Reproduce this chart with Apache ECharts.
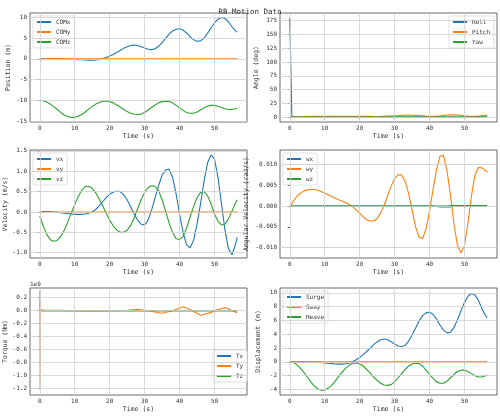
<!DOCTYPE html><html><head><meta charset="utf-8">
<script src="https://cdn.jsdelivr.net/npm/echarts@6/dist/echarts.min.js"></script>
<style>html,body{margin:0;background:#fff}#c{width:500px;height:416px}</style></head><body><div id="c"></div>
<script>
const time=[0,1,2,3,4,5,6,7,8,9,10,11,12,13,14,15,16,17,18,19,20,21,22,23,24,25,26,27,28,29,30,31,32,33,34,35,36,37,38,39,40,41,42,43,44,45,46,47,48,49,50,51,52,53,54,55,56,56.5];
const comX=[0,0,0,0,0,-0.01,-0.02,-0.04,-0.07,-0.1,-0.15,-0.2,-0.25,-0.3,-0.33,-0.33,-0.28,-0.15,0.05,0.3,0.65,1.05,1.5,2.0,2.5,2.9,3.2,3.3,3.2,2.9,2.6,2.3,2.2,2.4,3.0,3.9,4.9,5.9,6.7,7.1,7.2,6.9,6.2,5.3,4.6,4.2,4.3,5.0,6.1,7.4,8.6,9.5,9.9,9.7,8.9,7.7,6.7,6.4];
const comY=[0,0,0,0,0,0,0,0,0,0,0,0,0,0,0,0,0,0,0,0,0,0,0,0,0,0,0,0,0,0,0,0,0,0,0,0,0,0,0,0,0,0,0,0,0,0,0,0,0,0,0,0,0,0,0,0,0,0];
const comZ=[-10,-10.1,-10.4,-10.9,-11.5,-12.2,-12.9,-13.5,-13.9,-14.1,-14.1,-13.8,-13.4,-12.8,-12.1,-11.5,-10.9,-10.5,-10.2,-10.15,-10.3,-10.6,-11.1,-11.6,-12.2,-12.7,-13.1,-13.35,-13.4,-13.3,-12.9,-12.3,-11.7,-11.1,-10.6,-10.3,-10.2,-10.25,-10.6,-11.2,-11.8,-12.4,-12.9,-13.1,-13.1,-12.8,-12.3,-11.8,-11.4,-11.2,-11.2,-11.4,-11.7,-12.0,-12.2,-12.2,-12.0,-11.9];
const rollTime=[0,0.5,0.6,56.5];
const roll=[180,180,0,0];
const pitch=[0,0.2,0.4,0.6,0.8,1.0,1.1,1.2,1.3,1.3,1.4,1.4,1.4,1.4,1.5,1.5,1.5,1.5,1.5,1.4,1.4,1.3,1.2,1.2,1.1,1.1,1.2,1.4,1.7,2.0,2.4,2.8,3.1,3.3,3.4,3.3,3.0,2.6,2.1,1.6,1.3,1.3,1.7,2.3,3.0,3.6,3.9,3.9,3.6,3.0,2.3,1.7,1.4,1.5,2.0,2.6,3.1,3.2];
const yaw=comY;
const vx=[0,0.01,0.01,0.01,0,-0.01,-0.02,-0.03,-0.04,-0.05,-0.06,-0.06,-0.06,-0.05,-0.03,0,0.06,0.15,0.25,0.35,0.43,0.49,0.51,0.5,0.42,0.3,0.13,-0.05,-0.2,-0.3,-0.32,-0.2,0.05,0.35,0.65,0.9,1.03,1.05,0.85,0.45,-0.05,-0.5,-0.8,-0.88,-0.7,-0.3,0.2,0.75,1.2,1.4,1.3,0.85,0.2,-0.45,-0.9,-1.05,-0.8,-0.62];
const vy=comY;
const vz=[-0.1,-0.35,-0.55,-0.68,-0.72,-0.7,-0.6,-0.45,-0.25,-0.03,0.18,0.38,0.53,0.62,0.63,0.58,0.47,0.32,0.15,-0.03,-0.2,-0.34,-0.44,-0.5,-0.5,-0.45,-0.33,-0.15,0.08,0.3,0.48,0.6,0.64,0.63,0.52,0.3,0.02,-0.27,-0.5,-0.65,-0.68,-0.6,-0.4,-0.13,0.13,0.35,0.48,0.5,0.4,0.2,-0.05,-0.23,-0.32,-0.3,-0.17,0.02,0.22,0.3];
const wx=[0,0,0,0,0,0,0,0,0,0,0,0,0,0,0,0,0,0,0,0,0,0,0,0,0,0,0,0,0,0,0,0,0,0,0,0,0,0,0,0,0,0,-0.0001,-0.0002,-0.0002,-0.0002,-0.0002,-0.0001,0,0,0,0,0,0,0,0,0,0];
const wy=[-0.0003,0.0012,0.0023,0.0031,0.0036,0.0039,0.004,0.004,0.0038,0.0035,0.0031,0.0027,0.0023,0.0019,0.0015,0.0012,0.0008,0.0004,-0.0002,-0.0009,-0.0017,-0.0026,-0.0033,-0.0036,-0.0036,-0.003,-0.0017,0.0002,0.0025,0.0048,0.0066,0.0075,0.0075,0.006,0.003,-0.001,-0.005,-0.0075,-0.0078,-0.0055,-0.0012,0.004,0.0088,0.012,0.0122,0.0085,0.0025,-0.0045,-0.0095,-0.0113,-0.0095,-0.004,0.0025,0.0075,0.0093,0.0092,0.0085,0.0082];
const wz=[0,0,0,0,0,0,0,0,0,0,0,0,0,0,0,0,0,0,0,0,0,0,0,0,0,0,0,0,0,0,0,0,0,0,0,0,0,0,0,0,0,0,0,0,0,0,0.0001,0.0001,0.0001,0.0001,0.0001,0.0001,0.0001,0.0001,0.0001,0.0001,0.0001,0.0001];
const tx=comY;
const tyTime=[0,0.05,0.1,0.15,1,5,10,15,20,25,28,31,35,38,41,43,46,49,50,50.05,50.1,53,56.5];
const ty=[0,0.32,-1.22,0.02,0.01,0.005,0,-0.005,0,0.005,0.02,0.0,-0.04,0.0,0.06,0.02,-0.07,-0.03,0,-0.03,0.01,0.05,-0.03];
const tz=comY;
const surge=comX;
const sway=comY;
const heave=[0,-0.1,-0.4,-0.9,-1.5,-2.2,-2.9,-3.5,-3.9,-4.1,-4.1,-3.8,-3.4,-2.8,-2.1,-1.5,-0.9,-0.5,-0.2,-0.15,-0.3,-0.6,-1.1,-1.6,-2.2,-2.7,-3.1,-3.35,-3.4,-3.3,-2.9,-2.3,-1.7,-1.1,-0.6,-0.3,-0.2,-0.25,-0.6,-1.2,-1.8,-2.4,-2.9,-3.1,-3.1,-2.8,-2.3,-1.8,-1.4,-1.2,-1.2,-1.4,-1.7,-2.0,-2.2,-2.2,-2.0,-1.9];
const xTicks=[0,10,20,30,40,50];
const yTicks=[[-15,-10,-5,0,5,10],[0,25,50,75,100,125,150,175],[-1.0,-0.5,0.0,0.5,1.0,1.5],[-0.010,-0.005,0.000,0.005,0.010],[-1.2,-1.0,-0.8,-0.6,-0.4,-0.2,0.0,0.2],[-4,-2,0,2,4,6,8,10]];
const yRange=[[-15.2,11],[-9,189],[-1.13,1.52],[-0.0125,0.0135],[-1.3,0.35],[-4.8,10.7]];
const yDec=[0,0,1,3,1,0];
const yNames=['Position (m)','Angle (deg)','Velocity (m/s)','Angular Velocity (rad/s)','Torque (Nm)','Displacement (m)'];
const C=['#1f77b4','#ff7f0e','#2ca02c'];
const F='DejaVu Sans Mono';
const boxes=[[30,13,247,122],[280,13,497,122],[30,150,247,258],[280,150,497,258],[30,288,247,395],[280,288,497,395]];
const grid=boxes.map(b=>({left:b[0],top:b[1],width:b[2]-b[0],height:b[3]-b[1],show:true,borderColor:'#444',borderWidth:0.8}));
const xAxis=boxes.map((b,i)=>({type:'value',gridIndex:i,min:-2.8,max:59.3,name:'Time (s)',nameLocation:'middle',nameGap:11,nameTextStyle:{fontFamily:F,fontSize:6.5,color:'#333'},
 axisLine:{show:false},axisTick:{show:true,length:2,customValues:xTicks,lineStyle:{color:'#444'}},axisLabel:{customValues:xTicks,fontFamily:F,fontSize:6,color:'#333',margin:3},splitLine:{show:false}}));
const yAxis=boxes.map((b,i)=>({type:'value',gridIndex:i,min:yRange[i][0],max:yRange[i][1],name:yNames[i],nameLocation:'middle',nameGap:i==3?30:(i==1||i==4?20:18),nameTextStyle:{fontFamily:F,fontSize:6.5,color:'#333'},
 axisLine:{show:false},axisTick:{show:true,length:2,customValues:yTicks[i],lineStyle:{color:'#444'}},axisLabel:{customValues:yTicks[i],fontFamily:F,fontSize:6,color:'#333',margin:3,formatter:v=>v.toFixed(yDec[i])},splitLine:{show:false}}));
const series=[];
function gl(i){
 const d=[];xTicks.forEach(v=>d.push({xAxis:v}));yTicks[i].forEach(v=>d.push({yAxis:v}));
 return {type:'line',xAxisIndex:i,yAxisIndex:i,data:[],silent:true,markLine:{symbol:'none',silent:true,label:{show:false},lineStyle:{color:'#d0d0d0',type:'solid',width:0.8},data:d},z:0};}
for(let i=0;i<6;i++)series.push(gl(i));
function add(i,name,xs,ys,c){series.push({type:'line',name,xAxisIndex:i,yAxisIndex:i,showSymbol:false,symbol:'none',data:xs.map((x,k)=>[x,ys[k]]),lineStyle:{width:1.1,color:C[c]},itemStyle:{color:C[c]},z:2});}
add(0,'COMx',time,comX,0);add(0,'COMy',time,comY,1);add(0,'COMz',time,comZ,2);
add(1,'Roll',rollTime,roll,0);add(1,'Pitch',time,pitch,1);add(1,'Yaw',time,yaw,2);
add(2,'vx',time,vx,0);add(2,'vy',time,vy,1);add(2,'vz',time,vz,2);
add(3,'wx',time,wx,0);add(3,'wy',time,wy,1);add(3,'wz',time,wz,2);
add(4,'Tx',time,tx,0);add(4,'Ty',tyTime,ty,1);add(4,'Tz',time,tz,2);
add(5,'Surge',time,surge,0);add(5,'Sway',time,sway,1);add(5,'Heave',time,heave,2);
const lg=(names,pos)=>Object.assign({data:names,orient:'vertical',itemWidth:14,itemHeight:2,itemGap:4,icon:'rect',padding:[3,4],
 backgroundColor:'rgba(255,255,255,0.85)',borderColor:'#ccc',borderWidth:0.6,borderRadius:2,textStyle:{fontFamily:F,fontSize:6,color:'#333'}},pos);
const legend=[lg(['COMx','COMy','COMz'],{left:33,top:16}),lg(['Roll','Pitch','Yaw'],{right:6,top:16}),lg(['vx','vy','vz'],{left:33,top:153}),
 lg(['wx','wy','wz'],{left:283,top:153}),lg(['Tx','Ty','Tz'],{left:213,top:350}),lg(['Surge','Sway','Heave'],{left:283,top:291})];
const chart=echarts.init(document.getElementById('c'),null,{renderer:'canvas'});
chart.setOption({animation:false,backgroundColor:'#fff',
 title:{text:'RB Motion Data',left:'center',top:3,textStyle:{fontFamily:F,fontSize:7.5,fontWeight:'normal',color:'#333'}},
 graphic:[{type:'text',left:30,top:281,style:{text:'1e9',font:'6px "DejaVu Sans Mono"',fill:'#333'}}],
 grid,xAxis,yAxis,series,legend});
</script></body></html>
